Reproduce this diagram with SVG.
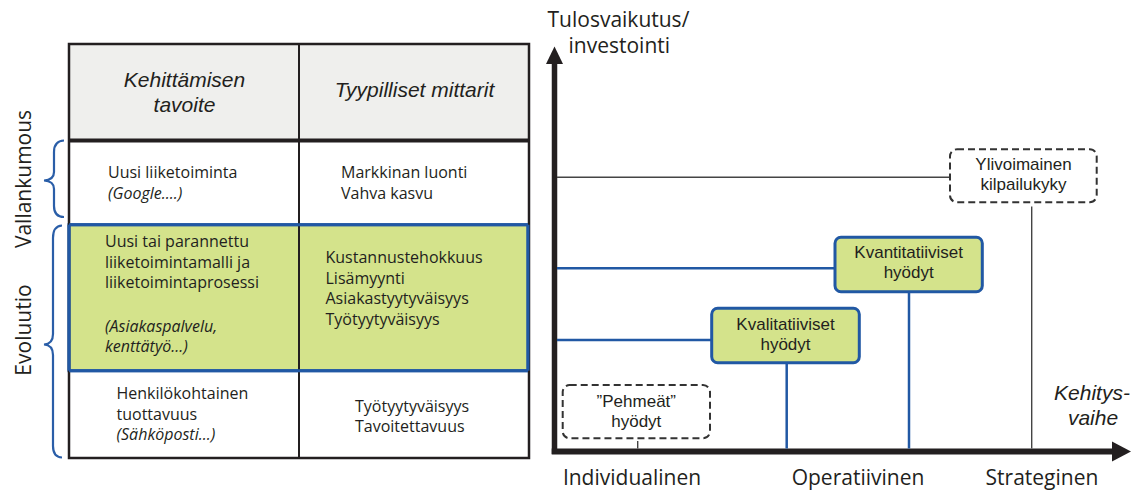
<svg xmlns="http://www.w3.org/2000/svg" width="1135" height="492" viewBox="0 0 1135 492">
<style>
text{font-family:"Open Sans","Liberation Sans",sans-serif;fill:#231f20}
.t{font-size:16px}
.i{font-style:italic}
.hd{font-family:"Liberation Sans",Arial,sans-serif;font-size:21px;font-style:italic;text-anchor:middle}
.ax{font-size:21px}
.ki{font-family:"Liberation Sans",Arial,sans-serif;font-size:21px;font-style:italic;text-anchor:middle}
.bx{font-family:"Liberation Sans",Arial,sans-serif;font-size:17px;text-anchor:middle}
.br{fill:none;stroke:#2a5ea8;stroke-width:2.2}
.grn{fill:#d4e38b;stroke:#2158a4;stroke-width:3}
.dash{fill:#fff;stroke:#333;stroke-width:2;stroke-dasharray:7 4}
.bl{stroke:#2158a4;stroke-width:2.5;fill:none}
.gl{stroke:#444;stroke-width:1.4;fill:none}
</style>
<rect width="1135" height="492" fill="#fff"/>

<g id="table">
<rect x="69" y="44" width="460" height="96" fill="#efefed"/>
<rect x="69" y="224.7" width="459" height="146" class="grn"/>
<line x1="299" y1="44" x2="299" y2="458" stroke="#231f20" stroke-width="2"/>
<line x1="69" y1="140.5" x2="529" y2="140.5" stroke="#231f20" stroke-width="4"/>
<rect x="69" y="44" width="460" height="414" fill="none" stroke="#231f20" stroke-width="2.5"/>
<line x1="69" y1="224.7" x2="528" y2="224.7" stroke="#2158a4" stroke-width="3"/>
<line x1="69" y1="370.7" x2="528" y2="370.7" stroke="#2158a4" stroke-width="3"/>
<line x1="69" y1="224.7" x2="69" y2="370.7" stroke="#2158a4" stroke-width="3"/>
<line x1="528" y1="224.7" x2="528" y2="370.7" stroke="#2158a4" stroke-width="3"/>
<text class="hd" x="184.5" y="86.7">Kehittämisen</text>
<text class="hd" x="184.5" y="111.7">tavoite</text>
<text class="hd" x="414.5" y="96.7">Tyypilliset mittarit</text>
<text class="t" x="108" y="178">Uusi liiketoiminta</text>
<text class="t i" x="108" y="198.5">(Google....)</text>
<text class="t" x="341" y="178">Markkinan luonti</text>
<text class="t" x="341" y="198.5">Vahva kasvu</text>
<text class="t" x="105" y="246.7">Uusi tai parannettu</text>
<text class="t" x="105" y="267.5">liiketoimintamalli ja</text>
<text class="t" x="105" y="288.3">liiketoimintaprosessi</text>
<text class="t i" x="105" y="331.7">(Asiakaspalvelu,</text>
<text class="t i" x="105" y="352">kenttätyö...)</text>
<text class="t" x="325.5" y="263.3">Kustannustehokkuus</text>
<text class="t" x="325.5" y="283.8">Lisämyynti</text>
<text class="t" x="325.5" y="304.3">Asiakastyytyväisyys</text>
<text class="t" x="325.5" y="324.8">Työtyytyväisyys</text>
<text class="t" x="116.5" y="399.3">Henkilökohtainen</text>
<text class="t" x="116.5" y="419.5">tuottavuus</text>
<text class="t i" x="116.5" y="440">(Sähköposti...)</text>
<text class="t" x="355" y="411.7">Työtyytyväisyys</text>
<text class="t" x="355" y="431.7">Tavoitettavuus</text>
</g>

<g id="side-labels">
<path class="br" d="M64,140.5 Q54,141 54,152 L54,172 Q54,180 44,180.5 Q54,181 54,189 L54,206 Q54,217 64,217"/>
<path class="br" d="M62,225.5 Q53,226 53,238 L53,334 Q53,344 44,344.5 Q53,345 53,355 L53,446 Q53,457 62,457.5"/>
<text class="ax" transform="translate(31,179) rotate(-90)" text-anchor="middle">Vallankumous</text>
<text class="ax" transform="translate(31,330) rotate(-90)" text-anchor="middle">Evoluutio</text>
</g>

<g id="axes">
<line x1="554.5" y1="454" x2="554.5" y2="64" stroke="#231f20" stroke-width="5.5"/>
<path d="M546,64 L554.5,46.5 L563,64 Z" fill="#231f20"/>
<line x1="551.7" y1="451.5" x2="1113" y2="451.5" stroke="#231f20" stroke-width="6"/>
<path d="M1112,441.5 L1131,451.5 L1112,461.5 Z" fill="#231f20"/>
<text class="ax" x="547.5" y="26.7">Tulosvaikutus/</text>
<text class="ax" x="568.5" y="53.3">investointi</text>
<text class="ki" x="1092" y="400">Kehitys-</text>
<text class="ki" x="1093" y="425">vaihe</text>
<text class="ax" x="632" y="485" text-anchor="middle">Individualinen</text>
<text class="ax" x="858" y="485" text-anchor="middle">Operatiivinen</text>
<text class="ax" x="1042" y="485" text-anchor="middle">Strateginen</text>
</g>

<g id="connectors">
<line class="gl" x1="557" y1="177.3" x2="950" y2="177.3"/>
<line class="gl" x1="1031.7" y1="206.5" x2="1031.7" y2="448.5"/>
<line class="bl" x1="557" y1="268.3" x2="835" y2="268.3"/>
<line class="bl" x1="909" y1="291.7" x2="909" y2="448.5"/>
<line class="bl" x1="557" y1="340" x2="711.7" y2="340"/>
<line class="bl" x1="786.7" y1="362.7" x2="786.7" y2="448.5"/>
<line class="gl" x1="637.7" y1="441" x2="637.7" y2="448.5"/>
</g>

<g id="node-ylivoimainen">
<rect class="dash" x="950" y="149.3" width="146.7" height="53" rx="7"/>
<text class="bx" x="1023.5" y="170">Ylivoimainen</text>
<text class="bx" x="1023.5" y="190">kilpailukyky</text>
</g>
<g id="node-kvantitatiiviset">
<rect class="grn" x="835" y="237.3" width="147.3" height="54.4" rx="6"/>
<text class="bx" x="908.7" y="258.3">Kvantitatiiviset</text>
<text class="bx" x="908.7" y="278.3">hyödyt</text>
</g>
<g id="node-kvalitatiiviset">
<rect class="grn" x="711.7" y="308.3" width="147.6" height="54.4" rx="6"/>
<text class="bx" x="785.5" y="330">Kvalitatiiviset</text>
<text class="bx" x="785.5" y="350">hyödyt</text>
</g>
<g id="node-pehmeat">
<rect class="dash" x="562.7" y="385" width="147.3" height="53.3" rx="7"/>
<text class="bx" x="636.3" y="406.7">”Pehmeät”</text>
<text class="bx" x="636.3" y="426.7">hyödyt</text>
</g>
</svg>
